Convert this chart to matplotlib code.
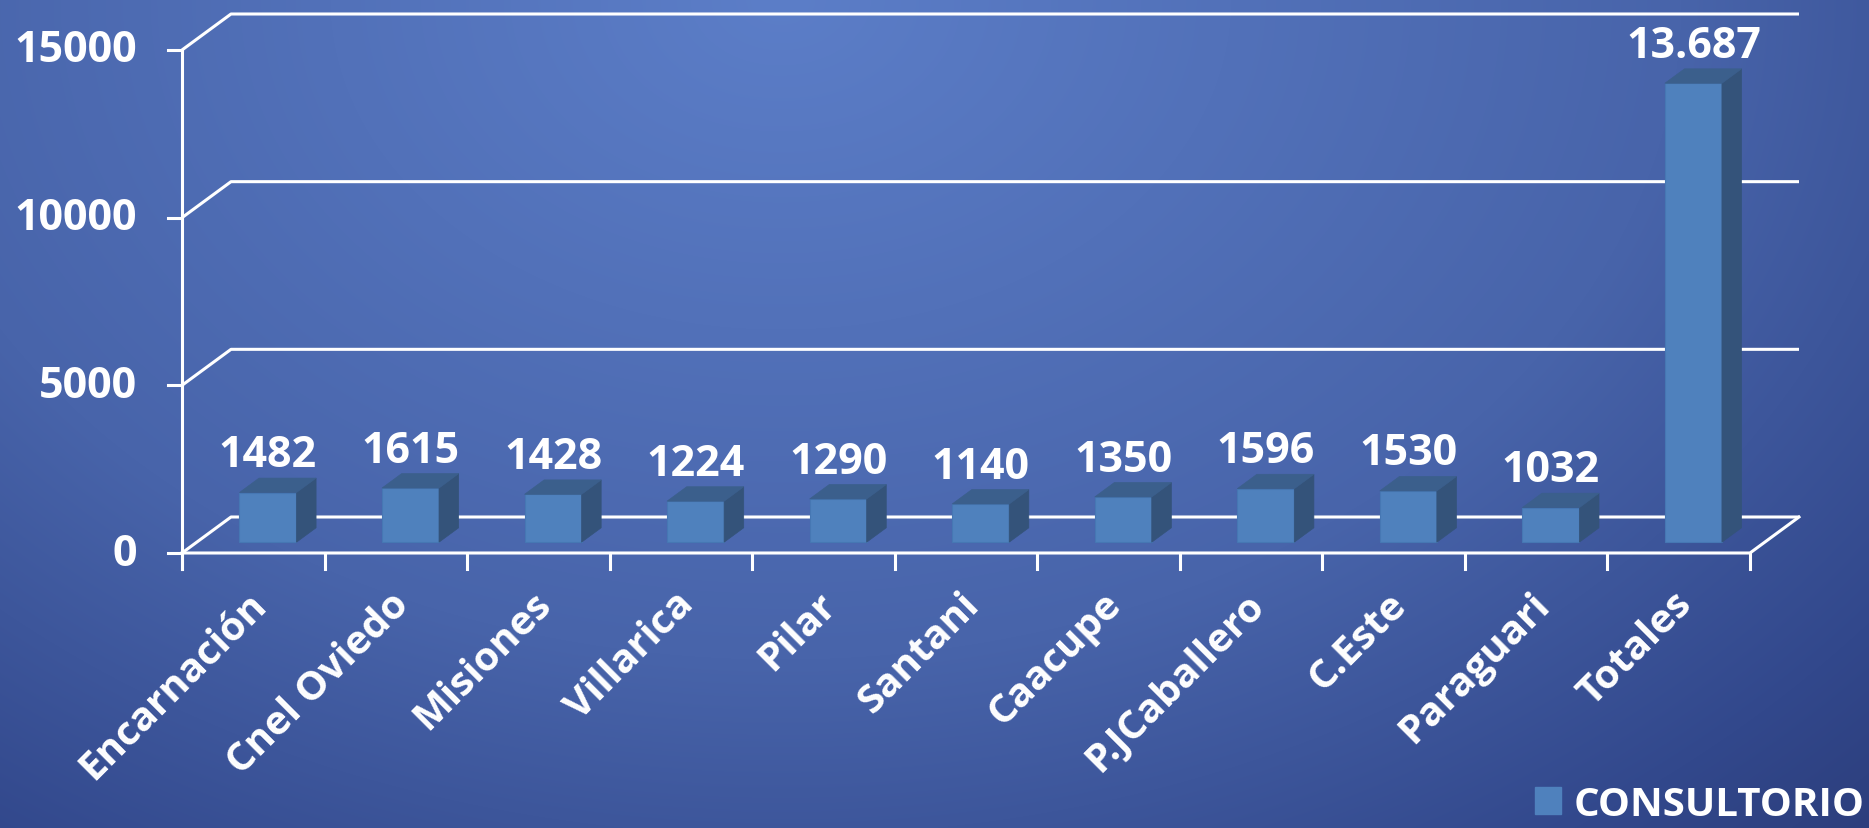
import matplotlib
matplotlib.use("Agg")
import matplotlib.pyplot as plt
from matplotlib.patches import Polygon, Rectangle, Patch
from matplotlib.transforms import offset_copy
import numpy as np

categories = ["Encarnación", "Cnel Oviedo", "Misiones", "Villarica", "Pilar", "Santani",
              "Caacupe", "P.JCaballero", "C.Este", "Paraguari", "Totales"]
values = [1482, 1615, 1428, 1224, 1290, 1140, 1350, 1596, 1530, 1032, 13687]
value_labels = ["1482", "1615", "1428", "1224", "1290", "1140", "1350", "1596", "1530", "1032", "13.687"]
yticks = [0, 5000, 10000, 15000]
series_name = "CONSULTORIO"

FONT = ["Open Sans", "DejaVu Sans"]
plt.rcParams["font.family"] = FONT
plt.rcParams["font.weight"] = "bold"
FS = 31      # numbers
FS_CAT = 29  # category labels, legend

W, H = 1869, 829
fig = plt.figure(figsize=(W / 100, H / 100), dpi=100)

# background gradient
bg = fig.add_axes([0, 0, 1, 1])
yy, xx = np.mgrid[0:H, 0:W]
t = np.sqrt(((xx - 780) / 1500.0) ** 2 + ((yy - 0) / 1100.0) ** 2)
stops = [0.0, 0.6, 0.92, 1.1]
cols = np.array([[92, 126, 200], [72, 100, 170], [50, 72, 140], [42, 58, 118]]) / 255.0
img = np.dstack([np.interp(t, stops, cols[:, c]) for c in range(3)])
bg.imshow(img, aspect="auto", extent=[0, 1, 0, 1])
bg.axis("off")

ax = fig.add_axes([182 / W, 275 / H, 1568 / W, 503 / H])
ax.set_xlim(-0.5, len(categories) - 0.5)
ax.set_ylim(0, 15000)
ax.patch.set_alpha(0)
ax.axis("off")

DX = 49 / 142.55
DY = 36 / 503 * 15000
xmax = len(categories) - 0.5
lw = 2.2

# walls / gridlines
for v in yticks:
    ax.plot([-0.5, -0.5 + DX, xmax + DX], [v, v + DY, v + DY], color="white", lw=lw,
            clip_on=False, zorder=1, solid_capstyle="butt")
ax.plot([-0.5, xmax, xmax + DX], [0, 0, DY], color="white", lw=lw, clip_on=False, zorder=1)
tick_down = 16 / 503 * 15000
ax.plot([-0.5, -0.5], [-tick_down, 15000], color="white", lw=lw, clip_on=False, zorder=1)
for k in range(len(categories) + 1):
    ax.plot([k - 0.5, k - 0.5], [0, -tick_down], color="white", lw=lw, clip_on=False, zorder=1)
for v in yticks:
    ax.plot([-0.5 - 14 / 142.55, -0.5], [v, v], color="white", lw=lw, clip_on=False, zorder=1)

# 3d bars
bw = 0.4
front_c, side_c, top_c = "#4f81bd", "#34537a", "#3b5f8c"
for i, v in enumerate(values):
    x0 = i - bw / 2 + 0.3 * DX
    y0 = 0.3 * DY
    ddx, ddy = 0.4 * DX, 0.4 * DY
    ax.add_patch(Rectangle((x0, y0), bw, v, facecolor=front_c, edgecolor="#4677b3",
                           lw=0.8, zorder=3, clip_on=False))
    ax.add_patch(Polygon([(x0 + bw, y0), (x0 + bw + ddx, y0 + ddy),
                          (x0 + bw + ddx, y0 + v + ddy), (x0 + bw, y0 + v)],
                         closed=True, facecolor=side_c, edgecolor=side_c, lw=0.5,
                         zorder=3, clip_on=False))
    ax.add_patch(Polygon([(x0, y0 + v), (x0 + bw, y0 + v), (x0 + bw + ddx, y0 + v + ddy),
                          (x0 + ddx, y0 + v + ddy)],
                         closed=True, facecolor=top_c, edgecolor=top_c, lw=0.5,
                         zorder=3, clip_on=False))
    lab_tr = offset_copy(ax.transData, fig=fig, x=0, y=12, units="dots")
    ax.text(i + 0.3 * DX, v + 0.7 * DY, value_labels[i], transform=lab_tr,
            ha="center", va="baseline", color="white", fontsize=FS, fontweight="bold",
            zorder=5, clip_on=False)

# y tick labels
ytr = offset_copy(ax.transData, fig=fig, x=-45, y=0, units="dots")
for v in yticks:
    ax.text(-0.5, v, str(v), transform=ytr, ha="right", va="center", color="white",
            fontsize=FS, fontweight="bold", clip_on=False)

# x tick labels
xtr = offset_copy(ax.transData, fig=fig, x=21, y=-31, units="dots")
for i, c in enumerate(categories):
    ax.text(i, 0, c, transform=xtr, rotation=45, ha="right", va="top", color="white",
            fontsize=FS_CAT, fontweight="bold", clip_on=False)

leg = fig.legend(handles=[Patch(facecolor=front_c, edgecolor=front_c)], labels=[series_name],
                 loc="lower right", bbox_to_anchor=(1.0, 0.0), frameon=False,
                 prop=dict(family=FONT, weight="bold", size=FS_CAT),
                 handlelength=0.65, handleheight=0.65, handletextpad=0.33,
                 borderpad=0.05, borderaxespad=0.05)
for txt in leg.get_texts():
    txt.set_color("white")

fig.savefig("out.png", dpi=100)
